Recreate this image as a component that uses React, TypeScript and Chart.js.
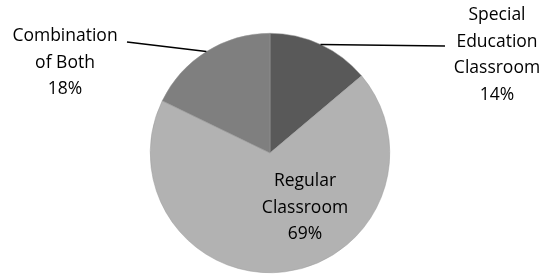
import React, { useEffect, useRef } from "react";
import { Chart, registerables } from "chart.js";

Chart.register(...registerables);

const categories = ["Special Education Classroom", "Regular Classroom", "Combination of Both"];
const values = [14, 69, 18];
const labelLines = [
  ["Special", "Education", "Classroom", "14%"],
  ["Regular", "Classroom", "69%"],
  ["Combination", "of Both", "18%"],
];
const colors = ["#595959", "#b2b2b2", "#7f7f7f"];

const FONT = '17.5px "Open Sans", sans-serif';

const labelPlugin = {
  id: "pieLabels",
  afterDatasetsDraw(chart: any) {
    const ctx = chart.ctx;
    const meta = chart.getDatasetMeta(0);
    const arcs = meta.data;
    const cx = arcs[0].x;
    const cy = arcs[0].y;
    const r = arcs[0].outerRadius;
    ctx.save();
    ctx.font = FONT;
    ctx.fillStyle = "#000";
    ctx.textAlign = "center";
    ctx.textBaseline = "middle";
    const lh = 26.5;
    const specs = [
      { x: cx + 227, y: cy - 98, lineEnd: { x: cx + 175, y: cy - 107 } },
      { x: cx + 35, y: cy + 55, lineEnd: null },
      { x: cx - 205, y: cy - 90, lineEnd: { x: cx - 143, y: cy - 111 } },
    ];
    arcs.forEach((arc: any, i: number) => {
      const s = specs[i];
      const lines = labelLines[i];
      const top = s.y - ((lines.length - 1) * lh) / 2;
      lines.forEach((t: string, j: number) => ctx.fillText(t, s.x, top + j * lh));
      if (s.lineEnd) {
        const mid = (arc.startAngle + arc.endAngle) / 2;
        const px = cx + Math.cos(mid) * r;
        const py = cy + Math.sin(mid) * r;
        ctx.beginPath();
        ctx.strokeStyle = "#000";
        ctx.lineWidth = 1.6;
        ctx.moveTo(s.lineEnd.x, s.lineEnd.y);
        ctx.lineTo(px, py);
        ctx.stroke();
      }
    });
    ctx.restore();
  },
};

export default function App() {
  const ref = useRef<HTMLCanvasElement>(null);
  useEffect(() => {
    document.body.style.margin = "0";
    const chart = new Chart(ref.current!, {
      type: "pie",
      data: {
        labels: categories,
        datasets: [
          {
            data: values,
            backgroundColor: colors,
            borderColor: "#9a9a9a",
            borderWidth: 0.5,
          },
        ],
      },
      options: {
        responsive: false,
        animation: false,
        layout: { padding: { left: 150, right: 153, top: 33, bottom: 3 } },
        plugins: { legend: { display: false }, tooltip: { enabled: false } },
      },
      plugins: [labelPlugin],
    });
    return () => chart.destroy();
  }, []);
  return (
    <div style={{ position: "absolute", left: 0, top: 0, width: 543, height: 276, background: "#fff" }}>
      <canvas ref={ref} width={543} height={276} />
    </div>
  );
}
